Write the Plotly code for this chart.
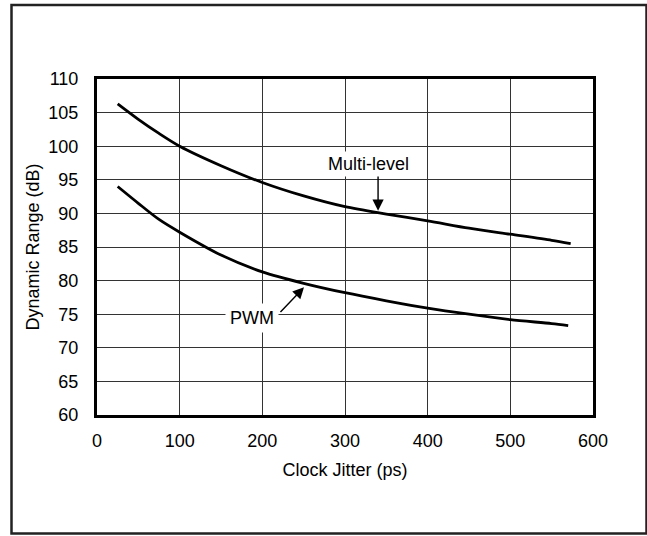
import plotly.graph_objects as go

jitter_ps = [25, 50, 75, 100, 150, 200, 250, 300, 350, 400, 450, 500, 550, 573]
multi_level_db = [106.3, 104.0, 101.9, 100.0, 97.1, 94.6, 92.6, 91.0, 89.9, 88.9, 87.8, 86.9, 86.0, 85.5]
pwm_jitter_ps = [25, 50, 75, 100, 150, 200, 250, 300, 350, 400, 450, 500, 550, 570]
pwm_db = [94.0, 91.5, 89.1, 87.2, 83.8, 81.3, 79.6, 78.2, 77.0, 75.9, 75.0, 74.2, 73.6, 73.3]

x_ticks = [0, 100, 200, 300, 400, 500, 600]
y_ticks = [60, 65, 70, 75, 80, 85, 90, 95, 100, 105, 110]

FONT = "Liberation Sans, Arial, sans-serif"
FS = 18

fig = go.Figure()
fig.add_trace(go.Scatter(x=jitter_ps, y=multi_level_db, mode="lines", name="Multi-level",
                         line=dict(color="black", width=2.8, shape="spline", smoothing=0.8), showlegend=False))
fig.add_trace(go.Scatter(x=pwm_jitter_ps, y=pwm_db, mode="lines", name="PWM",
                         line=dict(color="black", width=2.8, shape="spline", smoothing=0.8), showlegend=False))

L, R, T, B = 97, 54, 79, 121
W, H = 647, 536
pw, ph = W - L - R, H - T - B

def px_x(p):
    return (p - L) / pw

def px_y(p):
    return (H - B - p) / ph

fig.add_shape(type="rect", xref="paper", yref="paper",
              x0=px_x(11.5), x1=px_x(646.5), y0=px_y(533.5), y1=px_y(5),
              line=dict(color="#222", width=2.5), layer="below")

# arrows
fig.add_annotation(x=340, y=90.4, ax=340, ay=96.0, xref="x", yref="y", axref="x", ayref="y",
                   text="", showarrow=True, arrowhead=2, arrowsize=1.6, arrowwidth=1.4,
                   arrowcolor="black", standoff=0)
fig.add_annotation(x=250.4, y=79.0, ax=220.2, ay=75.1, xref="x", yref="y", axref="x", ayref="y",
                   text="", showarrow=True, arrowhead=2, arrowsize=1.6, arrowwidth=1.4,
                   arrowcolor="black", standoff=0)
# labels
fig.add_annotation(x=329, y=97.4, xref="x", yref="y", text="Multi-level", showarrow=False,
                   font=dict(family=FONT, size=FS, color="black"), bgcolor="white", borderpad=2)
fig.add_annotation(x=187.5, y=74.4, xref="x", yref="y", text="PWM", showarrow=False,
                   font=dict(family=FONT, size=FS, color="black"), bgcolor="white", borderpad=4)

fig.update_xaxes(range=[0, 600], tickvals=x_ticks, ticktext=[str(v) for v in x_ticks],
                 showgrid=True, gridcolor="#333", gridwidth=1, zeroline=False,
                 showline=True, linecolor="black", linewidth=3, mirror=True,
                 ticks="", ticklabelstandoff=7,
                 tickfont=dict(family=FONT, size=FS, color="black"),
                 title=dict(text="Clock Jitter (ps)", font=dict(family=FONT, size=FS, color="black"), standoff=14))
fig.update_yaxes(range=[60, 110], tickvals=y_ticks, ticktext=[str(v) for v in y_ticks],
                 showgrid=True, gridcolor="#333", gridwidth=1, zeroline=False,
                 showline=True, linecolor="black", linewidth=3, mirror=True,
                 ticks="", ticklabelstandoff=12,
                 tickfont=dict(family=FONT, size=FS, color="black"),
                 title=dict(text="Dynamic Range (dB)", font=dict(family=FONT, size=FS, color="black"), standoff=5))

fig.update_layout(width=W, height=H, margin=dict(l=L, r=R, t=T, b=B, autoexpand=False),
                  paper_bgcolor="white", plot_bgcolor="white", showlegend=False)

fig.write_html("out.html", config={"displayModeBar": False},
               post_script="document.body.style.margin='0';document.body.style.overflow='hidden';")
